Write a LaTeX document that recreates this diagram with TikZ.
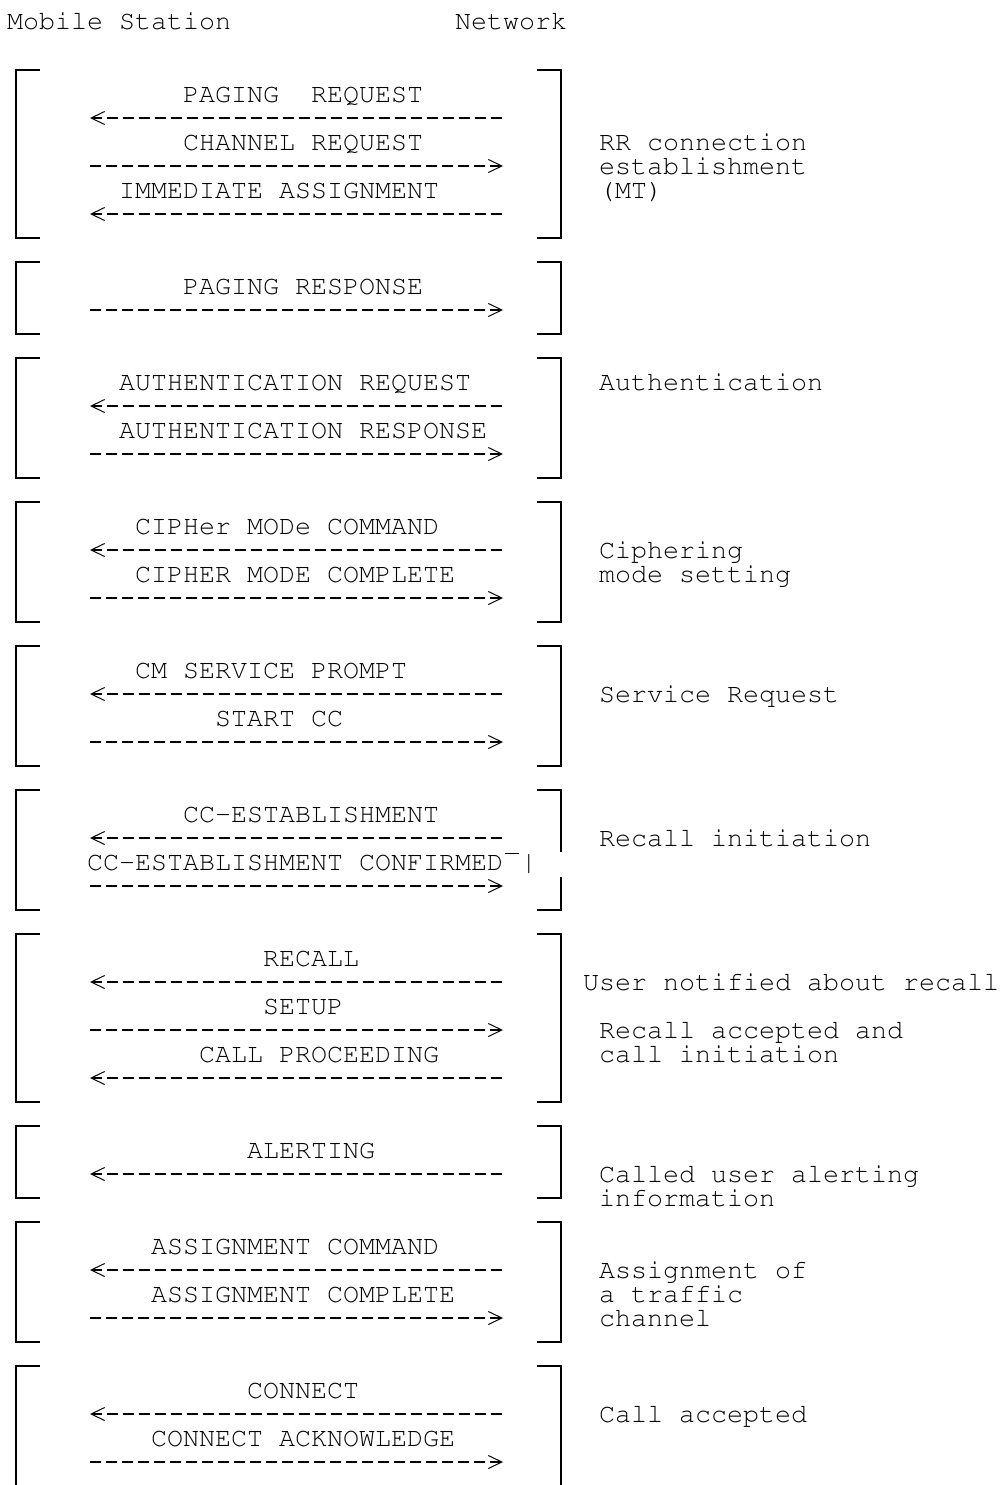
\documentclass[tikz,border=0pt]{standalone}
\usepackage[T1]{fontenc}
\usepackage{courier}
\usepackage{tikz}
\usetikzlibrary{arrows.meta}
\newcommand{\ascii}{\fontsize{26.67}{24}\selectfont\ttfamily}

\begin{document}
\begin{tikzpicture}[x=16pt, y=-24pt,
  txt/.style={anchor=base west, inner sep=0pt, yshift=-8pt, font=\ascii, align=left},
  brk/.style={line width=1.6pt},
  tomob/.style={line width=1.1pt, dash pattern=on 11pt off 5pt, shorten <=5pt,
    -{Straight Barb[length=13.5pt,width=13pt,line width=1pt,sep=4pt]}},
  tonet/.style={line width=1.1pt, dash pattern=on 11pt off 5pt, shorten <=4pt,
    -{Straight Barb[length=13.5pt,width=13pt,line width=1pt,sep=4pt]}}]
\useasboundingbox (-0.4375,-0.9167) rectangle (62.3125,60.9583);

% Header
\node[txt] (ms) at (0,0) {Mobile Station};
\node[txt] (net) at (28,0) {Network};

% Brackets
\foreach \t/\b in {2/9,10/13,14/19,20/25,26/31,38/45,46/49,50/55}{
  \draw[brk] (2.0625,\t) -| (0.5625,\b) -- (2.0625,\b);
  \draw[brk] (33.125,\t) -| (34.625,\b) -- (33.125,\b);
}
\draw[brk] (2.0625,32) -| (0.5625,37) -- (2.0625,37);
\draw[brk] (33.125,32) -| (34.625,34.58);
\draw[brk] (34.625,35.63) |- (33.125,37);
\draw[brk] (2.0625,56) -| (0.5625,61);
\draw[brk] (33.125,56) -| (34.625,61);

% Messages
\node[txt] (pagreq) at (11,3) {PAGING~~REQUEST};
\node[txt] (chanreq) at (11,5) {CHANNEL REQUEST};
\node[txt] (immass) at (7,7) {IMMEDIATE ASSIGNMENT};
\node[txt] (pagresp) at (11,11) {PAGING RESPONSE};
\node[txt] (authreq) at (7,15) {AUTHENTICATION REQUEST};
\node[txt] (authresp) at (7,17) {AUTHENTICATION RESPONSE};
\node[txt] (ciphcmd) at (8,21) {CIPHer MODe COMMAND};
\node[txt] (ciphcpl) at (8,23) {CIPHER MODE COMPLETE};
\node[txt] (cmprompt) at (8,27) {CM SERVICE PROMPT};
\node[txt] (startcc) at (13,29) {START CC};
\node[txt] (ccest) at (11,33) {CC-ESTABLISHMENT};
\node[txt] (ccconf) at (5,35) {CC-ESTABLISHMENT CONFIRMED\textasciimacron|};
\node[txt] (recall) at (16,39) {RECALL};
\node[txt] (setup) at (16,41) {SETUP};
\node[txt] (callproc) at (12,43) {CALL PROCEEDING};
\node[txt] (alert) at (15,47) {ALERTING};
\node[txt] (asscmd) at (9,51) {ASSIGNMENT COMMAND};
\node[txt] (asscpl) at (9,53) {ASSIGNMENT COMPLETE};
\node[txt] (conn) at (15,57) {CONNECT};
\node[txt] (connack) at (9,59) {CONNECT ACKNOWLEDGE};

% Arrows
\foreach \r in {4,8,16,22,28,34,40,44,48,52,58}{
  \coordinate (ms\r) at (4.9375,\r);
  \coordinate (nw\r) at (31.25,\r);
  \draw[tomob] (nw\r) -- (ms\r);
}
\foreach \r in {6,12,18,24,30,36,42,54,60}{
  \coordinate (ms\r) at (4.9375,\r);
  \coordinate (nw\r) at (31.25,\r);
  \draw[tonet] (ms\r) -- (nw\r);
}

% Procedures (node base is the last line)
\node[txt] (rrconn) at (37,7) {RR connection\\establishment\\(MT)};
\node[txt] (auth) at (37,15) {Authentication};
\node[txt] (ciph) at (37,23) {Ciphering\\mode setting};
\node[txt] (servreq) at (37,28) {Service Request};
\node[txt] (recinit) at (37,34) {Recall initiation};
\node[txt] (usernot) at (36,40) {User notified about recall};
\node[txt] (recacc) at (37,43) {Recall accepted and\\call initiation};
\node[txt] (called) at (37,49) {Called user alerting\\information};
\node[txt] (assign) at (37,54) {Assignment of\\a traffic\\channel};
\node[txt] (callacc) at (37,58) {Call accepted};
\end{tikzpicture}
\end{document}
